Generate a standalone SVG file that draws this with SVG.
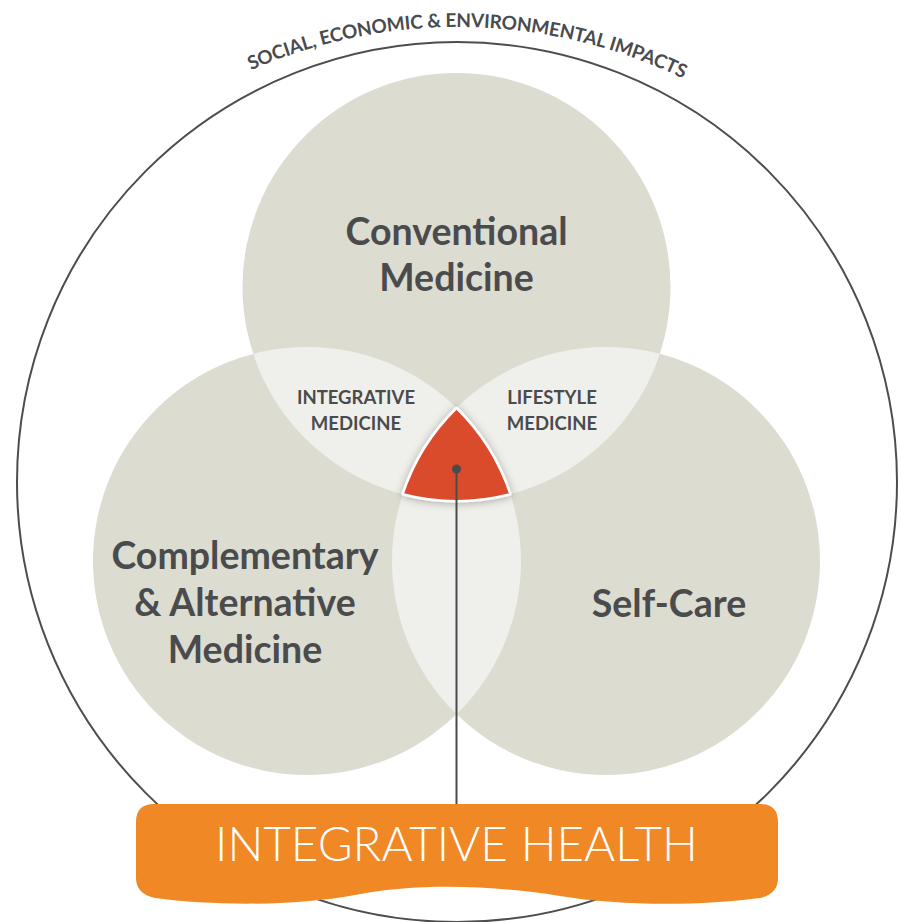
<svg xmlns="http://www.w3.org/2000/svg" width="901" height="922" viewBox="0 0 901 922">
<style>
.set{fill:#dddcd1}
.lens{fill:#eff0eb}
.big{font-family:Lato,"Liberation Sans",sans-serif;font-weight:700;font-size:37.5px;fill:#4a4b4d;text-anchor:middle}
.small{font-family:Lato,"Liberation Sans",sans-serif;font-weight:700;font-size:18.5px;fill:#4a4b4d;text-anchor:middle}
.arc{font-family:Lato,"Liberation Sans",sans-serif;font-weight:700;font-size:19px;fill:#4a4b4d}
.banner-text{font-family:Lato,"Liberation Sans",sans-serif;font-weight:300;font-size:47.5px;fill:#ffffff;text-anchor:middle}
</style>
<defs>
<clipPath id="cTop"><circle cx="456.5" cy="287" r="214"/></clipPath>
<clipPath id="cLeft"><circle cx="307" cy="561" r="214"/></clipPath>
<clipPath id="cRight"><circle cx="606" cy="561" r="214"/></clipPath>
<path id="arcPath" d="M -59,544 A 517 517 0 0 1 975,544"/>
<filter id="shadow" x="-30%" y="-30%" width="160%" height="160%">
<feDropShadow dx="0" dy="1" stdDeviation="4" flood-color="#000" flood-opacity="0.3"/>
</filter>
</defs>
<rect width="901" height="922" fill="#ffffff"/>
<g id="outer-impacts">
<circle cx="457" cy="482" r="440" fill="none" stroke="#4d4d4f" stroke-width="2"/>
<text class="arc"><textPath href="#arcPath" startOffset="822" text-anchor="middle" textLength="446" lengthAdjust="spacing">SOCIAL, ECONOMIC &amp; ENVIRONMENTAL IMPACTS</textPath></text>
</g>
<g id="conventional">
<circle class="set" cx="456.5" cy="287" r="214"/>
</g>
<g id="cam">
<circle class="set" cx="307" cy="561" r="214"/>
</g>
<g id="selfcare">
<circle class="set" cx="606" cy="561" r="214"/>
</g>
<g id="integrative-medicine">
<circle class="lens" cx="307" cy="561" r="214" clip-path="url(#cTop)"/>
</g>
<g id="lifestyle-medicine">
<circle class="lens" cx="606" cy="561" r="214" clip-path="url(#cTop)"/>
</g>
<g id="cam-selfcare-overlap">
<circle class="lens" cx="606" cy="561" r="214" clip-path="url(#cLeft)"/>
</g>
<g id="core">
<path d="M456.5,408 A214,214 0 0 0 402.6,494.2 A214,214 0 0 0 510.4,494.2 A214,214 0 0 0 456.5,408 Z" fill="#d94b2b" stroke="#ffffff" stroke-width="2.5" stroke-linejoin="round" filter="url(#shadow)"/>
</g>
<g id="labels">
<text class="big" x="456.5" y="245">Conventional</text>
<text class="big" x="456.5" y="291">Medicine</text>
<text class="big" x="245" y="569">Complementary</text>
<text class="big" x="245" y="616">&amp; Alternative</text>
<text class="big" x="245" y="663">Medicine</text>
<text class="big" x="669" y="617">Self-Care</text>
<text class="small" x="356" y="404">INTEGRATIVE</text>
<text class="small" x="356" y="430">MEDICINE</text>
<text class="small" x="552" y="404">LIFESTYLE</text>
<text class="small" x="552" y="430">MEDICINE</text>
</g>
<g id="connectors">
<line x1="456.5" y1="469" x2="456.5" y2="805" stroke="#4a4b4d" stroke-width="2"/>
<circle cx="456.5" cy="469" r="4.5" fill="#4a4b4d"/>
</g>
<g id="banner">
<path d="M136,822 Q136,804 154,804 L760,804 Q778,804 778,822 L778,878 Q778,894 760,898 C700,906 620,906 560,896 C500,886 420,882 355,895 C295,906 215,906 155,898 Q136,894 136,878 Z" fill="#f08826"/>
<text class="banner-text" x="456.5" y="861">INTEGRATIVE HEALTH</text>
</g>
</svg>
